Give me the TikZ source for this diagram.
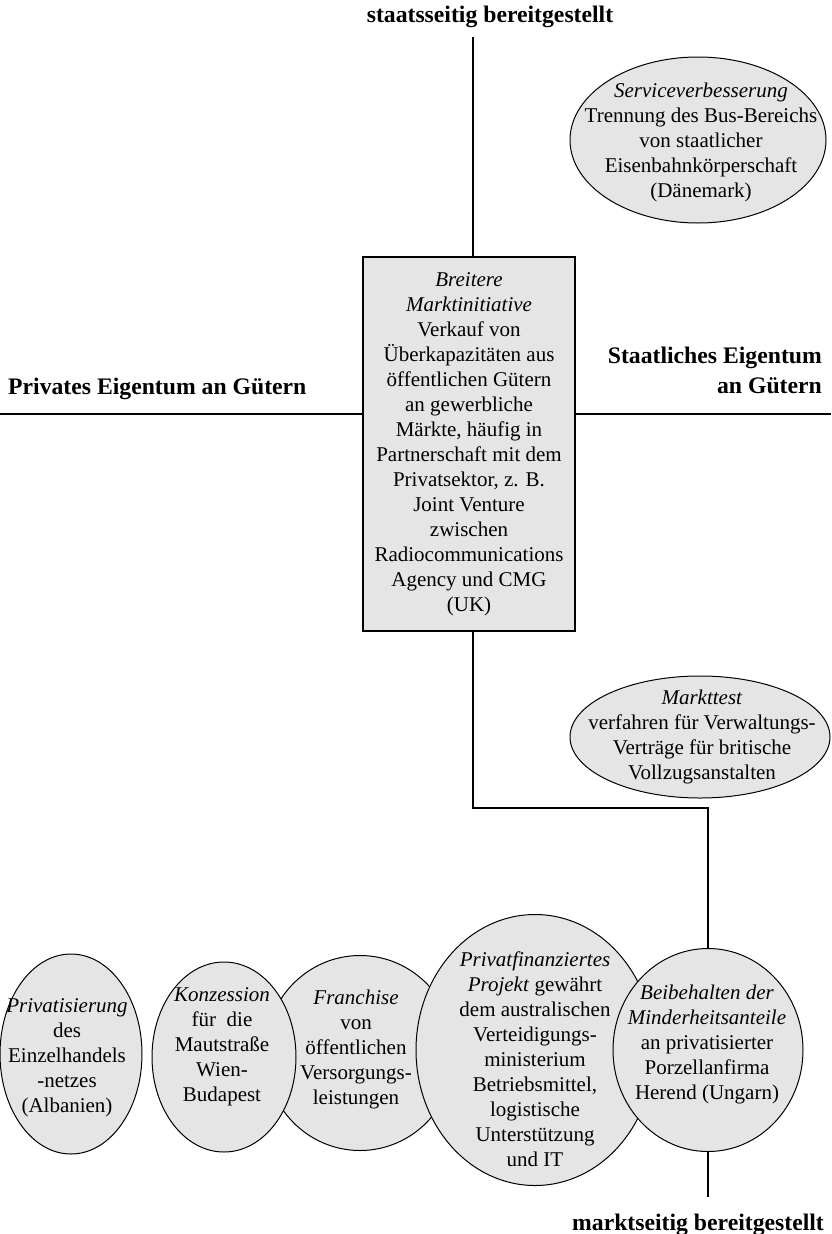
\documentclass[tikz,border=0pt]{standalone}
\usepackage{fontspec}
\setmainfont{Liberation Serif}
\usetikzlibrary{shapes.geometric}
\tikzset{
  axis/.style={line width=2.6pt},
  blob/.style={ellipse, draw, fill=gray!20, line width=1pt, inner sep=0pt},
  txt/.style={align=center, font=\fontsize{21}{25}\selectfont, inner sep=0pt},
  lbl/.style={font=\fontsize{23.7}{30}\selectfont\bfseries, inner sep=0pt},
  boxstyle/.style={draw, fill=gray!20, line width=1.3pt, inner sep=0pt, align=center,
    font=\fontsize{21}{25}\selectfont}
}
\begin{document}
\begin{tikzpicture}[x=1pt,y=-1pt]
\useasboundingbox (0,0) rectangle (831,1234);

% axes
\coordinate (top) at (473,37);
\coordinate (jog) at (473,808);
\coordinate (L) at (0,414);
\coordinate (R) at (831,414);
\coordinate (bot) at (708,1197);

% central box
\node[boxstyle, minimum width=212pt, minimum height=374pt] (box) at (469,444)
  {\textit{Breitere}\\\textit{Marktinitiative}\\Verkauf von\\Überkapazitäten aus\\öffentlichen Gütern\\an gewerbliche\\Märkte, häufig in\\Partnerschaft mit dem\\Privatsektor, z. B.\\Joint Venture\\zwischen\\Radiocommunications\\Agency und CMG\\(UK)};

% ellipses
\node[blob, minimum width=256pt, minimum height=166pt] (svc) at (698,140) {};
\node[blob, minimum width=260pt, minimum height=122pt] (mkt) at (700,737) {};
\node[blob, minimum width=190pt, minimum height=195pt] (fra) at (360,1053) {};
\node[blob, minimum width=142pt, minimum height=200pt] (pri) at (71,1054) {};
\node[blob, minimum width=144pt, minimum height=190pt] (kon) at (224,1057) {};
\node[blob, minimum width=238pt, minimum height=271pt] (pfp) at (535,1050) {};
\node[blob, minimum width=190pt, minimum height=203pt] (bei) at (708,1050) {};

% connectors
\draw[axis] (top) -- (top |- box.north);
\draw[axis] (top |- box.south) -- (jog) -- (jog -| bei.north) -- (bei.north);
\draw[axis] (bei.south) -- (bot);
\draw[axis] (L) -- (L -| box.west);
\draw[axis] (box.east |- R) -- (R);

% ellipse texts
\node[txt] (svct) at (701,142) {\textit{Serviceverbesserung}\\Trennung des Bus-Bereichs\\von staatlicher\\Eisenbahnkörperschaft\\(Dänemark)};
\node[txt] (mktt) at (702,737) {\textit{Markttest}\\verfahren für Verwaltungs-\\Verträge für britische\\Vollzugsanstalten};
\node[txt] (prit) at (67,1058) {\textit{Privatisierung}\\des\\Einzelhandels\\-netzes\\(Albanien)};
\node[txt] (kont) at (222,1047) {\textit{Konzession}\\für\ \ die\\Mautstraße\\Wien-\\Budapest};
\node[txt] (frat) at (356,1049) {\textit{Franchise}\\von\\öffentlichen\\Versorgungs-\\leistungen};
\node[txt] (pfpt) at (535,1059) {\textit{Privatfinanziertes}\\\textit{Projekt} gewährt\\dem australischen\\Verteidigungs-\\ministerium\\Betriebsmittel,\\logistische\\Unterstützung\\und IT};
\node[txt] (beit) at (707,1044) {\textit{Beibehalten der}\\\textit{Minderheitsanteile}\\an privatisierter\\Porzellanfirma\\Herend (Ungarn)};

% axis labels
\node[lbl, anchor=base] (ltop) at (490,23) {staatsseitig bereitgestellt};
\node[lbl, anchor=base] (lbot) at (698,1230) {marktseitig bereitgestellt};
\node[lbl, anchor=base west] (lleft) at (8,394) {Privates Eigentum an Gütern};
\node[lbl, anchor=base east] (lright1) at (822,363) {Staatliches Eigentum};
\node[lbl, anchor=base east] (lright2) at (822,393) {an Gütern};
\end{tikzpicture}
\end{document}
